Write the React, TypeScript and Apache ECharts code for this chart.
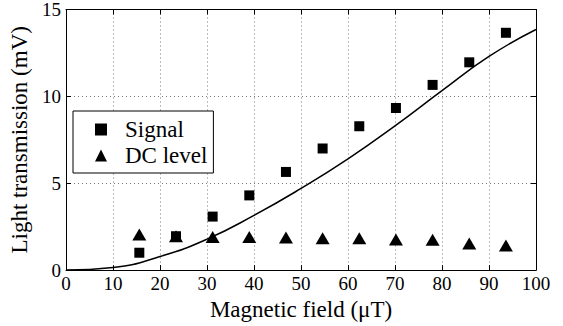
import React, { useEffect, useRef } from "react";
import * as echarts from "echarts";

const fieldValues = [15.6, 23.4, 31.2, 39.0, 46.8, 54.6, 62.4, 70.2, 78.0, 85.8, 93.6];
const signalValues = [1.0, 1.95, 3.08, 4.3, 5.65, 7.0, 8.28, 9.33, 10.66, 11.96, 13.66];
const dcLevelValues = [2.05, 1.95, 1.9, 1.9, 1.88, 1.83, 1.83, 1.76, 1.75, 1.53, 1.41];
const fitField = [0, 10, 20, 30, 40, 50, 60, 70, 80, 90, 100];
const fitValues = [0, 0.15, 0.78, 1.78, 3.15, 4.7, 6.4, 8.3, 10.33, 12.3, 13.85];

const FONT = "Times New Roman";

export default function App() {
  const ref = useRef<HTMLDivElement>(null);
  useEffect(() => {
    if (!ref.current) return;
    const chart = echarts.init(ref.current, null, { renderer: "svg" });
    const tickStyle = { show: true, inside: true, length: 5, lineStyle: { color: "#000", width: 1 } };
    const split = { show: true, lineStyle: { color: "#777", type: [1, 3] as any, width: 1 } };
    chart.setOption({
      animation: false,
      backgroundColor: "#fff",
      textStyle: { fontFamily: FONT },
      grid: { left: 66, right: 27, top: 8, bottom: 53, show: false },
      legend: {
        data: [
          { name: "Signal", icon: "rect" },
          { name: "DC level", icon: "triangle" },
        ],
        orient: "vertical",
        left: 73,
        top: 111,
        itemWidth: 12,
        itemHeight: 12,
        itemGap: 3,
        padding: [7, 6, 6, 22],
        borderColor: "#000",
        borderWidth: 1,
        backgroundColor: "#fff",
        textStyle: { fontFamily: FONT, fontSize: 23, color: "#000", padding: [0, 0, 0, 13] },
      },
      xAxis: [
        {
          type: "value",
          min: 0,
          max: 100,
          interval: 10,
          name: "Magnetic field (\u03bcT)",
          nameLocation: "middle",
          nameGap: 20,
          nameTextStyle: { fontFamily: FONT, fontSize: 23, color: "#000" },
          axisLine: { show: true, onZero: false, lineStyle: { color: "#000", width: 1 } },
          axisTick: tickStyle,
          axisLabel: { fontFamily: FONT, fontSize: 19, color: "#000", margin: 4 },
          splitLine: split,
        },
        {
          type: "value",
          position: "top",
          min: 0,
          max: 100,
          interval: 10,
          axisLine: { show: true, onZero: false, lineStyle: { color: "#000", width: 1 } },
          axisTick: tickStyle,
          axisLabel: { show: false },
          splitLine: { show: false },
        },
      ],
      yAxis: [
        {
          type: "value",
          min: 0,
          max: 15,
          interval: 5,
          name: "Light transmission (mV)",
          nameLocation: "middle",
          nameGap: 29,
          nameTextStyle: { fontFamily: FONT, fontSize: 23, color: "#000" },
          axisLine: { show: true, onZero: false, lineStyle: { color: "#000", width: 1 } },
          axisTick: tickStyle,
          axisLabel: { fontFamily: FONT, fontSize: 19, color: "#000", margin: 5 },
          splitLine: split,
        },
        {
          type: "value",
          position: "right",
          min: 0,
          max: 15,
          interval: 5,
          axisLine: { show: true, onZero: false, lineStyle: { color: "#000", width: 1 } },
          axisTick: tickStyle,
          axisLabel: { show: false },
          splitLine: { show: false },
        },
      ],
      series: [
        {
          name: "Fit",
          type: "line",
          data: fitField.map((x, i) => [x, fitValues[i]]),
          smooth: 0.5,
          showSymbol: false,
          lineStyle: { color: "#000", width: 1.5 },
          z: 2,
        },
        {
          name: "Signal",
          type: "scatter",
          data: fieldValues.map((x, i) => [x, signalValues[i]]),
          symbol: "rect",
          symbolSize: 10,
          itemStyle: { color: "#000", opacity: 1 },
          z: 3,
        },
        {
          name: "DC level",
          type: "scatter",
          data: fieldValues.map((x, i) => [x, dcLevelValues[i]]),
          symbol: "triangle",
          symbolSize: [14, 12],
          itemStyle: { color: "#000", opacity: 1 },
          z: 3,
        },
      ],
    });
    return () => chart.dispose();
  }, []);
  return (
    <div style={{ position: "absolute", left: 0, top: 0, width: 563, height: 326 }}>
      <div ref={ref} style={{ width: 563, height: 326 }} />
    </div>
  );
}
